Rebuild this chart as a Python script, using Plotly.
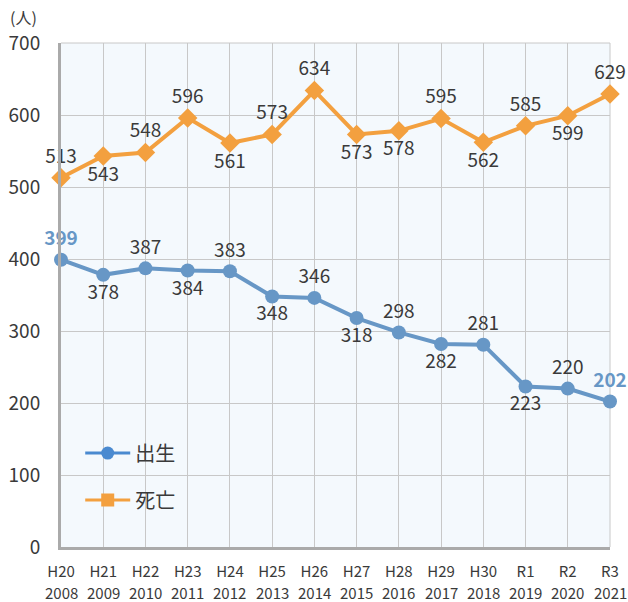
import plotly.graph_objects as go

era_labels = ["H20", "H21", "H22", "H23", "H24", "H25", "H26", "H27", "H28", "H29", "H30", "R1", "R2", "R3"]
years = ["2008", "2009", "2010", "2011", "2012", "2013", "2014", "2015", "2016", "2017", "2018", "2019", "2020", "2021"]
births = [399, 378, 387, 384, 383, 348, 346, 318, 298, 282, 281, 223, 220, 202]
deaths = [513, 543, 548, 596, 561, 573, 634, 573, 578, 595, 562, 585, 599, 629]
birth_pos = ["top center", "bottom center", "top center", "bottom center", "top center", "bottom center",
             "top center", "bottom center", "top center", "bottom center", "top center", "bottom center",
             "top center", "top center"]
death_pos = ["top center", "bottom center", "top center", "top center", "bottom center", "top center",
             "top center", "bottom center", "bottom center", "top center", "bottom center", "top center",
             "bottom center", "top center"]

FONT = "Noto Sans CJK JP, Noto Sans, sans-serif"
BLUE = "#6797c6"
ORANGE = "#f3a03f"
TXT = "#3a3a3a"

x = list(range(len(years)))
n = len(births)
birth_text = [f"<b>{v}</b>" if i in (0, n - 1) else str(v) for i, v in enumerate(births)]
birth_colors = [BLUE if i in (0, n - 1) else TXT for i in range(n)]

fig = go.Figure()
fig.add_trace(go.Scatter(
    x=x, y=births, name="出生", mode="lines+markers+text", showlegend=False,
    line=dict(color=BLUE, width=4),
    marker=dict(color=BLUE, size=14, symbol="circle"),
    text=birth_text, textposition=birth_pos,
    textfont=dict(size=19, color=birth_colors, family=FONT),
    cliponaxis=False,
))
fig.add_trace(go.Scatter(
    x=x, y=deaths, name="死亡", mode="lines+markers+text", showlegend=False,
    line=dict(color=ORANGE, width=4),
    marker=dict(color=ORANGE, size=15, symbol="diamond"),
    text=[str(v) for v in deaths], textposition=death_pos,
    textfont=dict(size=19, color=TXT, family=FONT),
    cliponaxis=False,
))
# legend-only entries (no data)
fig.add_trace(go.Scatter(
    x=[None], y=[None], name="出生", mode="lines+markers", legendgroup="a",
    line=dict(color="#4a8ad0", width=3), marker=dict(color="#4a8ad0", size=13, symbol="circle"),
))
fig.add_trace(go.Scatter(
    x=[None], y=[None], name="死亡", mode="lines+markers", legendgroup="b",
    line=dict(color=ORANGE, width=3), marker=dict(color=ORANGE, size=13, symbol="square"),
))

annotations = [dict(text="(人)", x=0, y=1, xref="paper", yref="paper",
                    xshift=-38, yshift=26, showarrow=False,
                    font=dict(size=16, color=TXT), xanchor="center", yanchor="middle")]
for xi, yr in zip(x, years):
    annotations.append(dict(text=yr, x=xi, y=0, xref="x", yref="paper", yshift=-45,
                            showarrow=False, xanchor="center", yanchor="middle",
                            borderpad=0, font=dict(size=15, color=TXT)))

fig.update_layout(
    width=628, height=602,
    margin=dict(l=61, r=18, t=43, b=55, autoexpand=False),
    paper_bgcolor="white",
    plot_bgcolor="#f4f9fd",
    font=dict(family=FONT, color=TXT, size=18),
    showlegend=True,
    legend=dict(x=0.035, y=0.225, xanchor="left", yanchor="top",
                bgcolor="rgba(0,0,0,0)", font=dict(size=20, color=TXT),
                itemwidth=45, tracegroupgap=18),
    annotations=annotations,
)
fig.update_xaxes(
    range=[0, len(years) - 1], tickmode="array", tickvals=x,
    ticktext=era_labels,
    showgrid=True, gridcolor="#c8c8c8", gridwidth=1,
    showline=True, linecolor="#aaaaaa", linewidth=3,
    ticks="", tickfont=dict(size=15, color=TXT), zeroline=False,
    automargin=False, ticklabelstandoff=9,
)
fig.update_yaxes(
    range=[0, 700], tickmode="array", tickvals=[0, 100, 200, 300, 400, 500, 600, 700],
    showgrid=True, gridcolor="#c8c8c8", gridwidth=1,
    showline=True, linecolor="#aaaaaa", linewidth=3,
    ticks="", tickfont=dict(size=19, color=TXT), zeroline=False,
    automargin=False, ticklabelstandoff=14,
)
fig.add_shape(type="line", xref="paper", yref="paper", x0=1, x1=1, y0=0, y1=1,
              line=dict(color="#c8c8c8", width=1), layer="below")
fig.add_shape(type="line", xref="paper", yref="paper", x0=0, x1=1, y0=1, y1=1,
              line=dict(color="#c8c8c8", width=1), layer="below")

fig.write_html("out.html", config={"displayModeBar": False},
               post_script="document.body.style.margin='0';")
